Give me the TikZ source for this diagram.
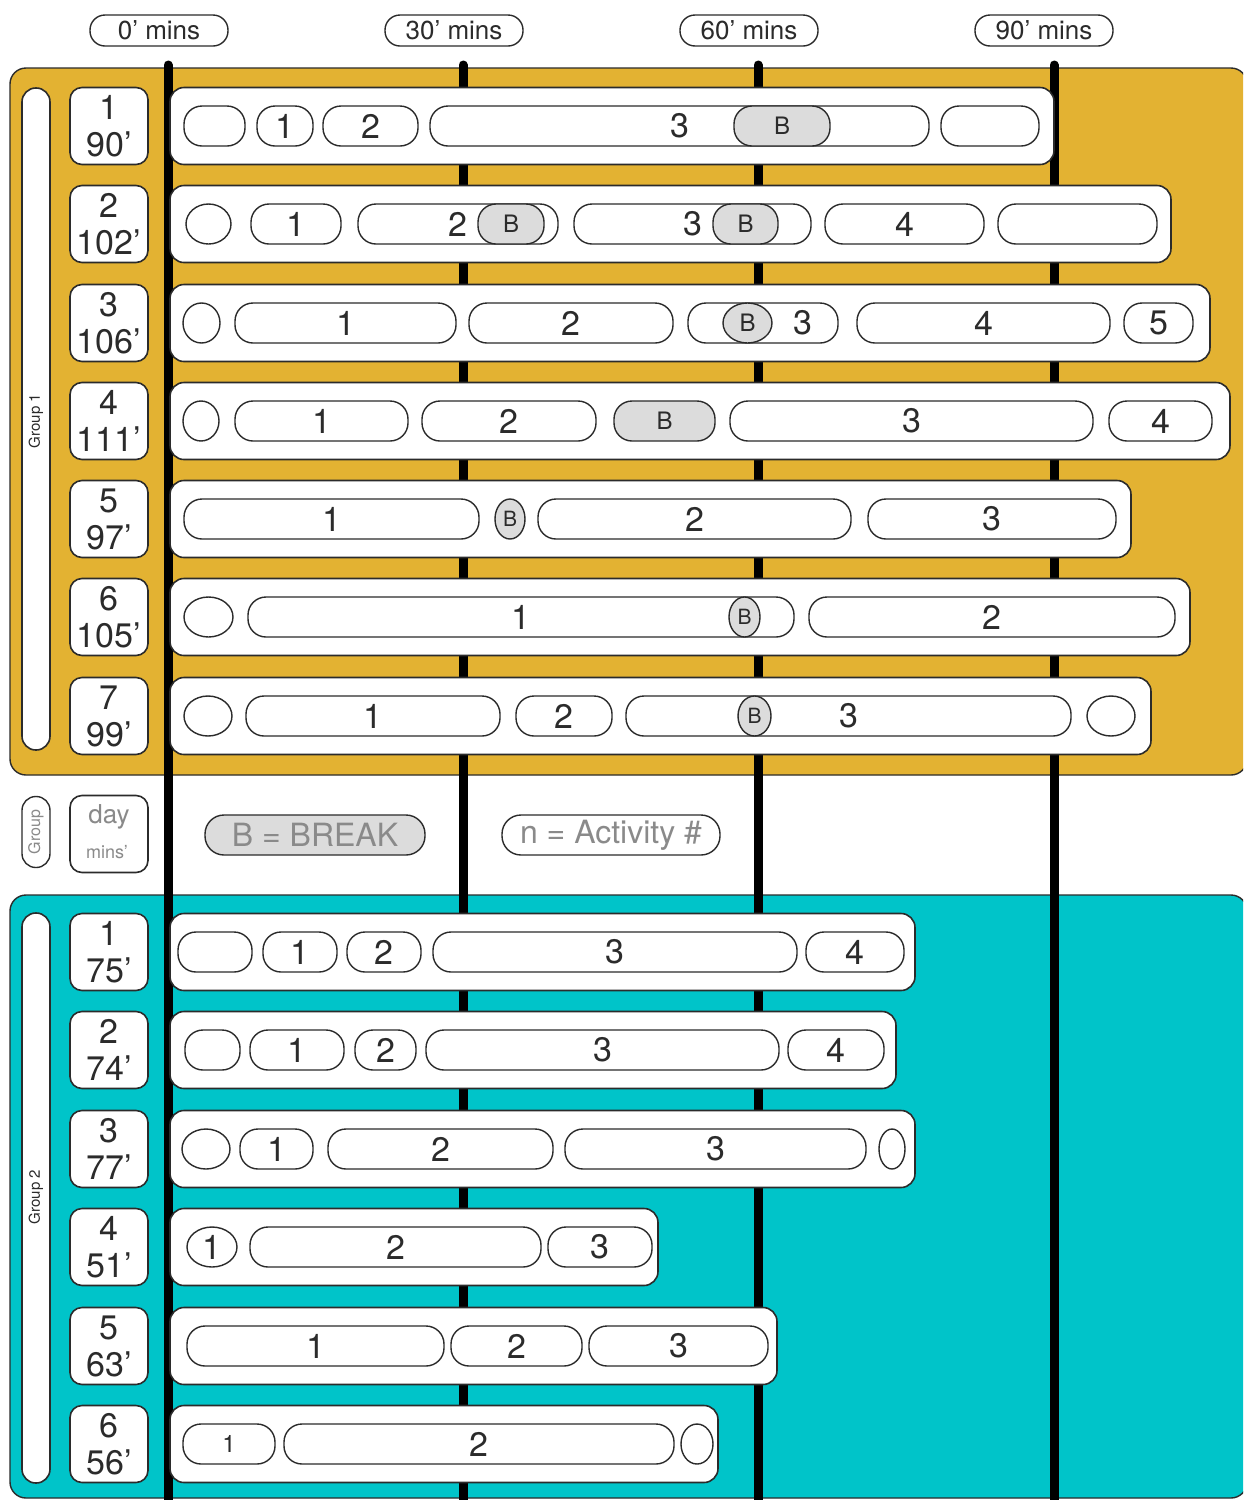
\documentclass[tikz,border=0pt]{standalone}
\usepackage{fontspec}
\setmainfont{TeX Gyre Heros}
\usetikzlibrary{shapes.geometric}
\definecolor{gold}{HTML}{E3B232}
\definecolor{teal2}{HTML}{00C4C9}
\definecolor{brkgray}{HTML}{DCDCDC}
\definecolor{ink}{HTML}{2B2B2B}
\definecolor{legendgray}{HTML}{8A8A8A}
\tikzset{
 panel/.style={draw=ink, line width=0.7pt, rounded corners=8pt},
 vline/.style={line width=4.5pt, line cap=round, black},
 rowbar/.style={draw=ink, fill=white, line width=0.8pt, rounded corners=7pt, minimum height=38.5pt, inner sep=0pt},
 pill/.style={draw=ink, fill=white, line width=0.7pt, rounded corners=9pt, minimum height=20pt, inner sep=0pt, text=ink, font=\fontsize{17}{17}\selectfont},
 brk/.style={fill=brkgray, font=\fontsize{12}{12}\selectfont},
 brkoval/.style={ellipse, fill=brkgray, font=\fontsize{10.5}{10.5}\selectfont},
 smalltxt/.style={font=\fontsize{12}{12}\selectfont},
 acttext/.style={text=ink, inner sep=0pt, font=\fontsize{17}{17}\selectfont},
 daybox/.style={draw=ink, fill=white, line width=0.8pt, rounded corners=6pt, minimum width=39pt, minimum height=38.5pt, inner sep=0pt, align=center, font=\fontsize{17}{18.5}\selectfont, text=ink},
 grpbar/.style={draw=ink, fill=white, line width=0.8pt, rounded corners=6.9pt, minimum width=14pt, inner sep=0pt},
 grptext/.style={rotate=90, text=ink, inner sep=0pt, font=\fontsize{7.5}{7.5}\selectfont},
 hdr/.style={draw=ink, fill=white, line width=0.7pt, rounded corners=7.5pt, minimum width=69pt, minimum height=15.5pt, inner sep=0pt, font=\fontsize{13}{13}\selectfont, text=ink},
 legendpill/.style={draw=ink, line width=0.7pt, rounded corners=9.5pt, minimum height=20pt, inner sep=0pt, text=legendgray, font=\fontsize{16}{16}\selectfont},
}
\newcommand\act[6][]{\pgfmathsetmacro\pillwd{(#4-#3)*0.5}\node[pill,minimum width=\pillwd pt,#1] (#2) at ({(#3+#4)/2},#5) {#6};}
\newcommand\rowbar[3]{\pgfmathsetmacro\rowwd{(#2-170)*0.5}\node[rowbar,minimum width=\rowwd pt] (#1) at ({(170+#2)/2},#3) {};}
\begin{document}
\begin{tikzpicture}[x=0.5pt,y=-0.5pt]
\useasboundingbox (0,0) rectangle (1243,1500);
\clip (0,0) rectangle (1243,1500);
\fill[white] (0,0) rectangle (1243,1500);
% panels
\draw[panel, fill=gold] (10,68) rectangle (1247,775);
\draw[panel, fill=teal2] (10,895) rectangle (1247,1498);
% header pills
\node[hdr] (h0) at (159,30.5) {0’ mins};
\node[hdr] (h30) at (454,30.5) {30’ mins};
\node[hdr] (h60) at (749,30.5) {60’ mins};
\node[hdr] (h90) at (1044,30.5) {90’ mins};
% time lines
\foreach \xx in {168,463,758,1054} \draw[vline] (\xx,65) -- (\xx,1510);
% group bars
\node[grpbar, minimum height=331pt] (g1bar) at (36,419) {};
\node[grptext] (g1txt) at (36,421) {Group 1};
\node[grpbar, minimum height=285pt] (g2bar) at (36,1198) {};
\node[grptext] (g2txt) at (36,1197) {Group 2};
% day boxes group 1
\node[daybox] (d11) at (109,126) {1\\90’};
\node[daybox] (d12) at (109,224) {2\\102’};
\node[daybox] (d13) at (109,323) {3\\106’};
\node[daybox] (d14) at (109,421) {4\\111’};
\node[daybox] (d15) at (109,519) {5\\97’};
\node[daybox] (d16) at (109,617) {6\\105’};
\node[daybox] (d17) at (109,716) {7\\99’};
% day boxes group 2
\node[daybox] (d21) at (109,952) {1\\75’};
\node[daybox] (d22) at (109,1050) {2\\74’};
\node[daybox] (d23) at (109,1149) {3\\77’};
\node[daybox] (d24) at (109,1247) {4\\51’};
\node[daybox] (d25) at (109,1346) {5\\63’};
\node[daybox] (d26) at (109,1444) {6\\56’};
% row bars
\rowbar{r11}{1054}{126}
\rowbar{r12}{1171}{224}
\rowbar{r13}{1210}{323}
\rowbar{r14}{1230}{421}
\rowbar{r15}{1131}{519}
\rowbar{r16}{1190}{617}
\rowbar{r17}{1151}{716}
\rowbar{r21}{915}{952}
\rowbar{r22}{896}{1050}
\rowbar{r23}{915}{1149}
\rowbar{r24}{658}{1247}
\rowbar{r25}{777}{1346}
\rowbar{r26}{718}{1444}
% group 1 row 1
\act{a11}{184}{245}{126}{}
\act{a12}{257}{313}{126}{1}
\act{a13}{323}{418}{126}{2}
\act{a14}{430}{929}{126}{3}
\act[brk]{b11}{734}{830}{126}{B}
\act{a15}{941}{1039}{126}{}
% row 2
\act[ellipse]{a21}{186}{231}{224}{}
\act{a22}{251}{341}{224}{1}
\act{a23}{358}{558}{224}{2}
\act[brk]{b21}{478}{544}{224}{B}
\act{a24}{574}{811}{224}{3}
\act[brk]{b22}{713}{778}{224}{B}
\act{a25}{825}{984}{224}{4}
\act{a26}{998}{1157}{224}{}
% row 3
\act[ellipse]{a31}{183}{220}{323}{}
\act{a32}{235}{456}{323}{1}
\act{a33}{469}{673}{323}{2}
\act{a34}{688}{838}{323}{}
\act[brk,ellipse]{b31}{723}{772}{323}{B}
\node[acttext] (t34) at (803,323) {3};
\act{a35}{857}{1110}{323}{4}
\act{a36}{1124}{1193}{323}{5}
% row 4
\act[ellipse]{a41}{183}{219}{421}{}
\act{a42}{235}{408}{421}{1}
\act{a43}{422}{596}{421}{2}
\act[brk]{b41}{614}{715}{421}{B}
\act{a44}{730}{1093}{421}{3}
\act{a45}{1109}{1212}{421}{4}
% row 5
\act{a51}{184}{479}{519}{1}
\act[brkoval]{b51}{495}{525}{519}{B}
\act{a52}{538}{851}{519}{2}
\act{a53}{868}{1116}{519}{3}
% row 6
\act[ellipse]{a61}{184}{233}{617}{}
\act{a62}{248}{794}{617}{1}
\act[brkoval]{b61}{729}{760}{617}{B}
\act{a63}{809}{1175}{617}{2}
% row 7
\act[ellipse]{a71}{184}{232}{716}{}
\act{a72}{246}{500}{716}{1}
\act{a73}{516}{612}{716}{2}
\act{a74}{626}{1071}{716}{3}
\act[brkoval]{b71}{738}{771}{716}{B}
\act[ellipse]{a75}{1087}{1135}{716}{}
% group 2 row 1
\act{c11}{178}{252}{952}{}
\act{c12}{263}{337}{952}{1}
\act{c13}{347}{421}{952}{2}
\act{c14}{433}{797}{952}{3}
\act{c15}{806}{904}{952}{4}
% row 2
\act{c21}{185}{240}{1050}{}
\act{c22}{250}{344}{1050}{1}
\act{c23}{355}{416}{1050}{2}
\act{c24}{426}{779}{1050}{3}
\act{c25}{788}{884}{1050}{4}
% row 3
\act[ellipse]{c31}{182}{230}{1149}{}
\act{c32}{240}{313}{1149}{1}
\act{c33}{328}{553}{1149}{2}
\act{c34}{565}{866}{1149}{3}
\act[ellipse]{c35}{879}{905}{1149}{}
% row 4
\act[ellipse]{c41}{187}{237}{1247}{1}
\act{c42}{250}{541}{1247}{2}
\act{c43}{548}{652}{1247}{3}
% row 5
\act{c51}{187}{444}{1346}{1}
\act{c52}{451}{582}{1346}{2}
\act{c53}{589}{768}{1346}{3}
% row 6
\act[smalltxt]{c61}{183}{275}{1444}{1}
\act{c62}{284}{674}{1444}{2}
\act[ellipse]{c63}{681}{713}{1444}{}
% legend
\node[draw=ink, fill=white, line width=0.7pt, rounded corners=6.9pt, minimum width=14pt, minimum height=35.5pt, inner sep=0pt] (lgrp) at (36,832) {};
\node[rotate=90, text=legendgray, inner sep=0pt, font=\fontsize{8}{8}\selectfont] (lgrptxt) at (36,832) {Group};
\node[draw=ink, fill=white, line width=0.8pt, rounded corners=6pt, minimum width=39pt, minimum height=38.5pt, inner sep=0pt] (lday) at (109,834) {};
\node[text=legendgray, inner sep=0pt, font=\fontsize{13}{13}\selectfont] (ldaytxt) at (109,817) {day};
\node[text=legendgray, inner sep=0pt, font=\fontsize{9}{9}\selectfont] (lminstxt) at (107,852) {mins’};
\node[legendpill, fill=brkgray, minimum width=110pt] (lbrk) at (315,835) {B = BREAK};
\node[legendpill, fill=white, minimum width=109pt] (lact) at (611,835) {n = Activity \#};
\end{tikzpicture}
\end{document}
